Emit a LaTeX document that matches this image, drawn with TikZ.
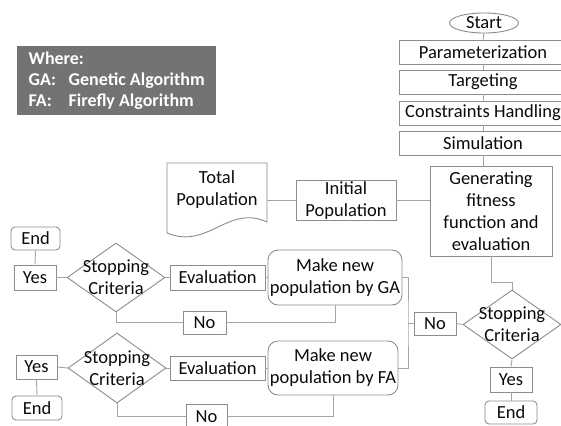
\documentclass[tikz,border=0pt]{standalone}
\usepackage{fontspec}
\setmainfont{Carlito}
\usetikzlibrary{shapes.geometric}

\definecolor{boxline}{RGB}{140,140,140}
\definecolor{linkline}{RGB}{165,165,165}
\definecolor{leggray}{RGB}{115,115,115}
\definecolor{txt}{RGB}{10,10,10}

\tikzset{
  plain/.style={draw=boxline, line width=0.9pt, rectangle, inner sep=1pt, align=center, text=txt},
  soft/.style={plain, rounded corners=4pt},
  softbig/.style={plain, rounded corners=10pt},
  decide/.style={draw=boxline, line width=0.9pt, diamond, inner sep=0pt},
  link/.style={draw=linkline, line width=0.9pt}
}

\begin{document}
\begin{tikzpicture}[x=1pt, y=-1pt, every node/.append style={font=\fontsize{18.5}{22}\selectfont}]
    \useasboundingbox (0,0) rectangle (561,425);

    % legend
    \node[anchor=north west, fill=leggray, text=white, align=left, minimum width=199pt,
          inner sep=0pt, minimum height=69pt,
          font=\fontsize{18}{21}\selectfont\bfseries] (legend) at (17,46)
        {Where:\\\makebox[40pt][l]{GA:}Genetic Algorithm\\\makebox[40pt][l]{FA:}Firefly Algorithm};

    % main column
    \node[draw=boxline, line width=0.9pt, ellipse, inner sep=0pt, minimum width=69pt,
          minimum height=20pt, text=txt] (start) at (484,23) {Start};
    \node[plain, minimum width=168pt, minimum height=24pt] (param) at (483,52) {Parameterization};
    \node[plain, minimum width=168pt, minimum height=24pt] (target) at (483,82) {Targeting};
    \node[plain, minimum width=168pt, minimum height=24pt] (constr) at (483,113) {Constraints Handling};
    \node[plain, minimum width=168pt, minimum height=24pt] (simul) at (483,143) {Simulation};
    \node[plain, minimum width=122pt, minimum height=90pt] (gen) at (491,211)
        {Generating\\fitness\\function and\\evaluation};

    % population
    \node[plain, minimum width=100pt, minimum height=37pt] (init) at (346,200.5) {Initial\\Population};
    \node[align=center, text=txt, minimum width=100pt, minimum height=54pt, inner sep=0pt] (total) at (217,190)
        {Total\\Population};
    \draw[draw=boxline, line width=0.9pt] (167,163) -- (267,163) -- (267,222)
        .. controls (228,204) and (208,250) .. (167,233) -- cycle;

    % right decision
    \node[decide, minimum width=98pt, minimum height=69pt,
          label={[align=center, text=txt]center:Stopping\\Criteria}] (dec) at (512,324.5) {};
    \node[plain, minimum width=42pt, minimum height=23pt] (noM) at (435,323.5) {No};
    \node[plain, minimum width=42pt, minimum height=25pt] (yesR) at (511,379.5) {Yes};
    \node[soft, minimum width=52pt, minimum height=23pt] (endR) at (511,412.5) {End};

    % GA branch
    \node[softbig, minimum width=134pt, minimum height=55pt] (mkGA) at (335,277.5) {Make new\\population by GA};
    \node[plain, minimum width=95pt, minimum height=25pt] (evGA) at (217.5,277.5) {Evaluation};
    \node[decide, minimum width=98pt, minimum height=69pt,
          label={[align=center, text=txt]center:Stopping\\Criteria}] (decGA) at (116,277.5) {};
    \node[plain, minimum width=42pt, minimum height=25pt] (yesGA) at (35,277.5) {Yes};
    \node[soft, minimum width=49pt, minimum height=23pt] (endGA) at (35.5,238.5) {End};
    \node[plain, minimum width=43pt, minimum height=23pt] (noGA) at (204.5,322.5) {No};

    % FA branch
    \node[softbig, minimum width=130pt, minimum height=54pt] (mkFA) at (333,368) {Make new\\population by FA};
    \node[plain, minimum width=95pt, minimum height=24pt] (evFA) at (217.5,368) {Evaluation};
    \node[decide, minimum width=98pt, minimum height=70pt,
          label={[align=center, text=txt]center:Stopping\\Criteria}] (decFA) at (117,368) {};
    \node[plain, minimum width=41pt, minimum height=24pt] (yesFA) at (36.5,367) {Yes};
    \node[soft, minimum width=50pt, minimum height=24pt] (endFA) at (37,408) {End};
    \node[plain, minimum width=41pt, minimum height=24pt] (noFA) at (206.5,416.5) {No};

    \coordinate (genbend) at (491,282);
    \coordinate (brk) at (408,323.5);

    % connectors
    \draw[link] (start) -- (param);
    \draw[link] (param) -- (target);
    \draw[link] (target) -- (constr);
    \draw[link] (constr) -- (simul);
    \draw[link] (simul.south) -- (simul.south |- gen.north);
    \draw[link] (init.west) -- (init.west -| total.east);
    \draw[link] (init.east) -- (init.east -| gen.west);
    \draw[link] (gen.south) -- (genbend) -| (dec.north);
    \draw[link] (dec.west) -- (noM.east);
    \draw[link] (noM.west) -- (brk);
    \draw[link] (mkGA.east) -| (brk) |- (mkFA.east);
    \draw[link] (dec.south) -- (yesR.north);
    \draw[link] (yesR.south) -- (endR.north);

    \draw[link] (evGA.east) -- (mkGA.west);
    \draw[link] (decGA.east) -- (evGA.west);
    \draw[link] (decGA.west) -- (yesGA.east);
    \draw[link] (yesGA.north) -- (endGA.south);
    \draw[link] (decGA.south) |- (noGA.west);
    \draw[link] (noGA.east) -| (mkGA.south);

    \draw[link] (evFA.east) -- (mkFA.west);
    \draw[link] (decFA.east) -- (evFA.west);
    \draw[link] (decFA.west) -- (yesFA.east);
    \draw[link] (yesFA.south) -- (endFA.north);
    \draw[link] (decFA.south) |- (noFA.west);
    \draw[link] (noFA.east) -| (mkFA.south);
\end{tikzpicture}
\end{document}
